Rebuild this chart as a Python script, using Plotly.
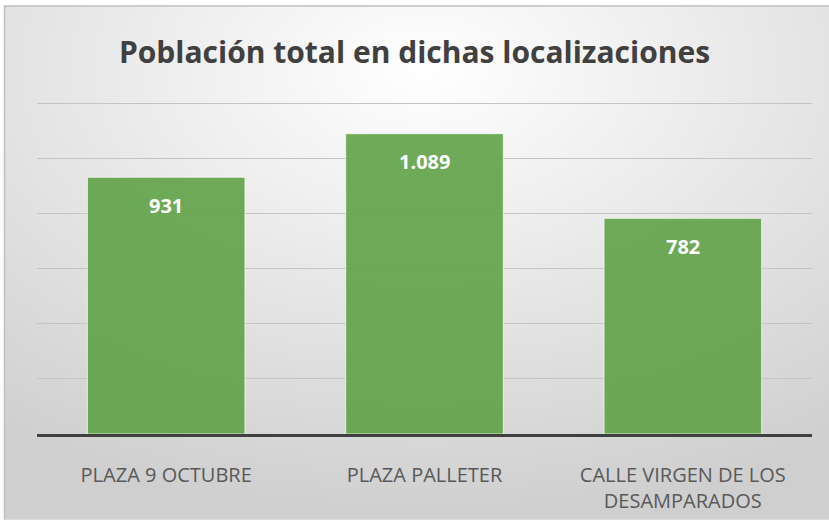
import base64
import plotly.graph_objects as go

categorias = ["PLAZA 9 OCTUBRE", "PLAZA PALLETER", "CALLE VIRGEN DE LOS<br>DESAMPARADOS"]
poblacion = [931, 1089, 782]
y_ticks = [0, 200, 400, 600, 800, 1000, 1200]

W, H = 829, 526
L, R, T, B = 37, 17, 102, 87
pw, ph = W - L - R, H - T - B

# fondo con degradado radial estilo Excel
svg = f"""<svg xmlns='http://www.w3.org/2000/svg' width='{W}' height='{H}'>
<defs><radialGradient id='g' cx='50%' cy='12%' r='85%' fx='50%' fy='12%'>
<stop offset='0%' stop-color='#ffffff'/><stop offset='100%' stop-color='#cfcfcf'/>
</radialGradient></defs>
<rect width='{W}' height='{H}' fill='white'/>
<rect x='4.5' y='4.5' width='{W + 10}' height='{H + 10}' fill='url(#g)' stroke='#bfbfbf' stroke-width='1.5'/>
</svg>"""
src = "data:image/svg+xml;base64," + base64.b64encode(svg.encode()).decode()

fig = go.Figure()
fig.add_trace(go.Bar(
    x=categorias,
    y=poblacion,
    width=0.61,
    marker=dict(color="rgba(98,163,74,0.92)", line=dict(color="rgba(255,255,255,0.7)", width=1)),
    hoverinfo="skip",
))

for c, v in zip(categorias, poblacion):
    fig.add_annotation(
        x=c, y=v, yshift=-28, yanchor="middle", showarrow=False,
        text=f"<b>{v:,}</b>".replace(",", "."),
        font=dict(family="Open Sans", size=20, color="white"),
    )

fig.add_layout_image(dict(
    source=src, xref="paper", yref="paper",
    x=-L / pw, y=(ph + T) / ph, sizex=W / pw, sizey=H / ph,
    xanchor="left", yanchor="top", sizing="stretch", layer="below",
))

fig.update_layout(
    width=W, height=H,
    margin=dict(l=L, r=R, t=T, b=B),
    paper_bgcolor="white",
    plot_bgcolor="rgba(0,0,0,0)",
    showlegend=False,
    title=dict(
        text="<b>Población total en dichas localizaciones</b>",
        x=0.5, xanchor="center", y=1 - 52 / H, yanchor="middle",
        font=dict(family="Open Sans", size=30, color="#404040"),
    ),
)
fig.update_xaxes(
    showline=True, linecolor="#404040", linewidth=3,
    tickfont=dict(family="Open Sans", size=20, color="#595959"),
    ticklabelstandoff=21, showgrid=False,
)
fig.update_yaxes(
    range=[0, 1204], tickvals=y_ticks, showticklabels=False,
    showgrid=True, gridcolor="#c4c4c4", gridwidth=1.3, zeroline=False,
)

fig.write_html("out.html", config={"displayModeBar": False},
               post_script="document.body.style.margin='0';")
